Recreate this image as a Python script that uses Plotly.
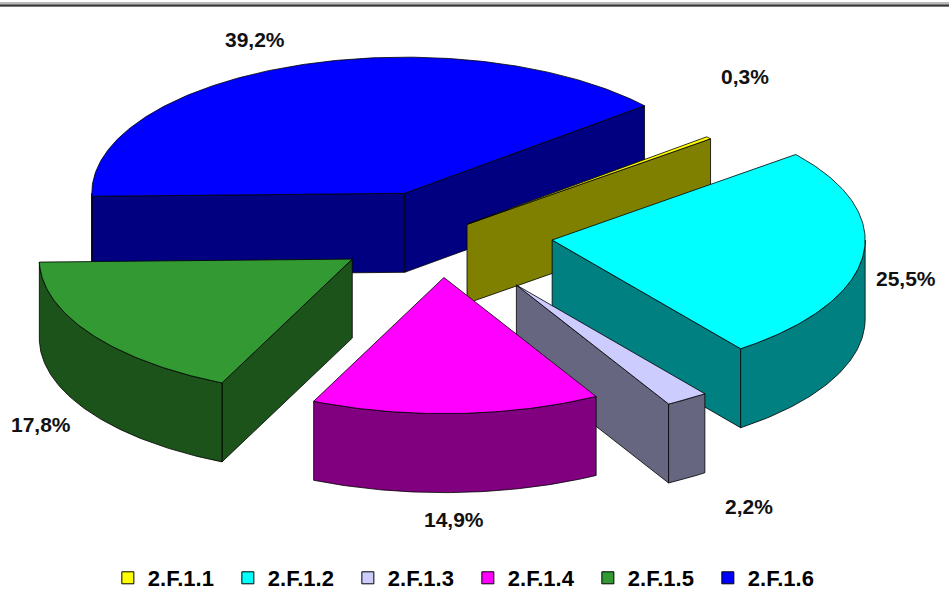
import numpy as np
import plotly.graph_objects as go

# ---- data ----
categories = ["2.F.1.1", "2.F.1.2", "2.F.1.3", "2.F.1.4", "2.F.1.5", "2.F.1.6"]
shares = [0.3, 25.5, 2.2, 14.9, 17.8, 39.2]
value_labels = ["0,3%", "25,5%", "2,2%", "14,9%", "17,8%", "39,2%"]

# ---- style ----
top_colors = ["#FFFF00", "#00FFFF", "#CCCCFF", "#FF00FF", "#339933", "#0000FF"]
side_colors = ["#808000", "#008080", "#666680", "#800080", "#1B531B", "#000080"]
explode_px = [35, 113, 140, 100, 105, 100]
label_nudge = [(5, -50), (3, 10), (40, 27), (-4, 10), (-16, 38), (-25, -10)]
START_ANGLE = 50.0      # degrees clockwise from 12 o'clock
CX, CY = 440.0, 234.0   # pie centre (pixels)
R = 313.0               # radius (pixels, horizontal)
K = 0.435               # vertical squash of the tilted pie
DEPTH = 79.0            # thickness of the pie
W, H = 949, 591

fig = go.Figure()


def pt(ax, ay, t, r, z):
    a = np.radians(t)
    return ax + r * np.sin(a), ay - K * r * np.cos(a) + z


def arc(ax, ay, t_from, t_to, z):
    n = max(3, int(abs(t_to - t_from) / 0.7) + 2)
    ts = np.linspace(t_from, t_to, n)
    a = np.radians(ts)
    return list(ax + R * np.sin(a)), list(ay - K * R * np.cos(a) + z)


def poly(xs, ys, color):
    fig.add_trace(go.Scatter(
        x=xs + [xs[0]], y=ys + [ys[0]], mode="lines", fill="toself",
        fillcolor=color, line=dict(color="black", width=0.8),
        hoverinfo="skip", showlegend=False))


total = sum(shares)
bounds = []
cum = 0.0
for s in shares:
    t1 = START_ANGLE + 360.0 * cum / total
    t2 = t1 + 360.0 * s / total
    bounds.append((t1, t2))
    cum += s

mids = [(a + b) / 2 for a, b in bounds]
apexes = []
for i, m in enumerate(mids):
    apexes.append(pt(CX, CY, m, explode_px[i], 0.0))

order = sorted(range(len(shares)), key=lambda i: -np.cos(np.radians(mids[i])))

for i in order:
    t1, t2 = bounds[i]
    ax, ay = apexes[i]
    # radial faces
    for t, normal in ((t1, t1 - 90), (t2, t2 + 90)):
        if np.cos(np.radians(normal)) < 0:
            ex, ey = pt(ax, ay, t, R, 0.0)
            poly([ax, ex, ex, ax], [ay, ey, ey + DEPTH, ay + DEPTH], side_colors[i])
    # outer curved face (front part only)
    for k in (-1, 0, 1):
        lo = max(t1, 90 + 360 * k)
        hi = min(t2, 270 + 360 * k)
        if hi > lo:
            xt, yt = arc(ax, ay, lo, hi, 0.0)
            xb, yb = arc(ax, ay, hi, lo, DEPTH)
            poly(xt + xb, yt + yb, side_colors[i])
    # top face
    xa, ya = arc(ax, ay, t1, t2, 0.0)
    poly([ax] + xa, [ay] + ya, top_colors[i])

# value labels
for i, m in enumerate(mids):
    ax, ay = apexes[i]
    c = np.cos(np.radians(m))
    lx, ly = pt(ax, ay, m, R + 40, DEPTH * max(0.0, -c))
    lx += label_nudge[i][0]
    ly += label_nudge[i][1]
    fig.add_annotation(x=lx, y=ly, xref="x", yref="y", text=value_labels[i],
                       showarrow=False,
                       font=dict(family="Liberation Sans, Arial", size=21,
                                 color="#111111", weight="bold"))

# legend entries
for i, cat in enumerate(categories):
    fig.add_trace(go.Scatter(
        x=[None], y=[None], mode="markers", name=cat,
        marker=dict(symbol="square", size=12, color=top_colors[i],
                    line=dict(color="black", width=1))))

fig.add_shape(type="line", xref="paper", yref="paper", x0=0, x1=1,
              y0=1 - 4.5 / H, y1=1 - 4.5 / H, line=dict(color="#BBBBBB", width=5))
fig.add_shape(type="line", xref="paper", yref="paper", x0=0, x1=1,
              y0=1 - 5.5 / H, y1=1 - 5.5 / H, line=dict(color="#3A3A3A", width=2))

fig.update_layout(
    width=W, height=H,
    margin=dict(l=0, r=0, t=0, b=0, pad=0, autoexpand=False),
    paper_bgcolor="white", plot_bgcolor="white",
    xaxis=dict(range=[0, W], visible=False, fixedrange=True),
    yaxis=dict(range=[H, 0], visible=False, fixedrange=True),
    showlegend=True,
    legend=dict(orientation="h", x=0.493, xanchor="center",
                y=(H - 578) / H, yanchor="middle",
                font=dict(family="Liberation Sans, Arial", size=22,
                          color="black", weight="bold"),
                bgcolor="rgba(0,0,0,0)", itemwidth=30,
                entrywidth=75, entrywidthmode="pixels"),
)

fig.write_html("out.html", config={"displayModeBar": False},
               post_script="document.body.style.margin='0';"
                           "document.body.style.overflow='hidden';")
